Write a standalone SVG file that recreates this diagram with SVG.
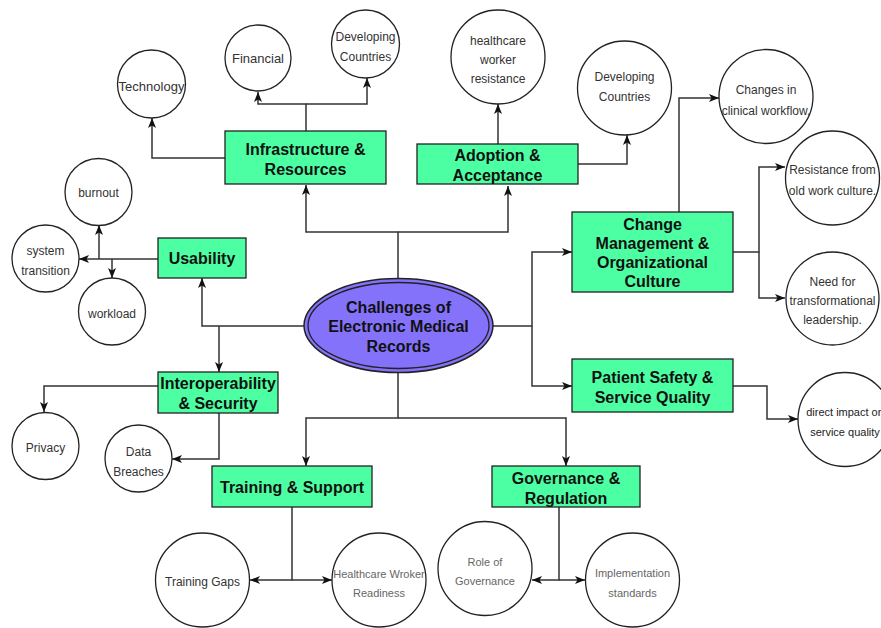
<svg xmlns="http://www.w3.org/2000/svg" width="881" height="628" viewBox="0 0 881 628">
<style>
.box{fill:#4dffa3;stroke:#222;stroke-width:1.3}
.c{fill:#fff;stroke:#222;stroke-width:1.3}
.bt{font-family:"Liberation Sans",Arial,sans-serif;font-size:16px;font-weight:bold;fill:#111;text-anchor:middle}
.ct{font-family:"Liberation Sans",Arial,sans-serif;font-size:12px;fill:#333;text-anchor:middle}
.gt{font-family:"Liberation Sans",Arial,sans-serif;font-size:11px;fill:#666;text-anchor:middle}
.ln{fill:none;stroke:#333;stroke-width:1.5}
</style>
<defs>
<marker id="ar" viewBox="0 0 10 8" refX="10" refY="4" markerWidth="10" markerHeight="8" orient="auto" markerUnits="userSpaceOnUse">
<path d="M0,0 L10,4 L0,8 L2.5,4 Z" fill="#111"/>
</marker>
</defs>
<rect width="881" height="628" fill="#fff"/>
<g id="connectors">
<path class="ln" d="M398,278 V232 H306 V185" marker-end="url(#ar)"/>
<path class="ln" d="M398,232 H508 V186" marker-end="url(#ar)"/>
<path class="ln" d="M225,158 H152 V118" marker-end="url(#ar)"/>
<path class="ln" d="M306,131 V104 H258 V92" marker-end="url(#ar)"/>
<path class="ln" d="M306,104 H367 V78" marker-end="url(#ar)"/>
<path class="ln" d="M498,144 V104" marker-end="url(#ar)"/>
<path class="ln" d="M578,164 H627 V135" marker-end="url(#ar)"/>
<path class="ln" d="M493,326 H532 V252 H572" marker-end="url(#ar)"/>
<path class="ln" d="M532,326 V386 H572" marker-end="url(#ar)"/>
<path class="ln" d="M679,212 V98 H719" marker-end="url(#ar)"/>
<path class="ln" d="M733,252 H759 V167 H785" marker-end="url(#ar)"/>
<path class="ln" d="M759,252 V298 H785" marker-end="url(#ar)"/>
<path class="ln" d="M733,386 H767 V419 H798" marker-end="url(#ar)"/>
<path class="ln" d="M398,373 V418 H306 V466" marker-end="url(#ar)"/>
<path class="ln" d="M398,418 H566 V466" marker-end="url(#ar)"/>
<path class="ln" d="M292,507 V580 H250" marker-end="url(#ar)"/>
<path class="ln" d="M292,580 H332" marker-end="url(#ar)"/>
<path class="ln" d="M559,507 V580 H532" marker-end="url(#ar)"/>
<path class="ln" d="M559,580 H585" marker-end="url(#ar)"/>
<path class="ln" d="M304,326 H202 V278" marker-end="url(#ar)"/>
<path class="ln" d="M219,326 V372" marker-end="url(#ar)"/>
<path class="ln" d="M158,259 H79" marker-end="url(#ar)"/>
<path class="ln" d="M99,259 V225" marker-end="url(#ar)"/>
<path class="ln" d="M112,259 V278" marker-end="url(#ar)"/>
<path class="ln" d="M158,386 H44 V412" marker-end="url(#ar)"/>
<path class="ln" d="M219,413 V459 H172" marker-end="url(#ar)"/>
</g>
<g id="center">
<ellipse cx="398.5" cy="325.5" rx="94.5" ry="47" fill="#8472fb" stroke="#222" stroke-width="1.5"/>
<ellipse cx="398.5" cy="325.5" rx="90.5" ry="43" fill="none" stroke="#222" stroke-width="1.3"/>
<text class="bt" x="398.5" y="313">Challenges of</text>
<text class="bt" x="398.5" y="332">Electronic Medical</text>
<text class="bt" x="398.5" y="352">Records</text>
</g>
<g id="infrastructure"><rect class="box" x="225" y="131" width="161" height="53"/><text class="bt" x="305.5" y="155">Infrastructure &amp;</text><text class="bt" x="305.5" y="175">Resources</text></g>
<g id="adoption"><rect class="box" x="417" y="144" width="161" height="40"/><text class="bt" x="497.5" y="161">Adoption &amp;</text><text class="bt" x="497.5" y="181">Acceptance</text></g>
<g id="usability"><rect class="box" x="158" y="238" width="88" height="40"/><text class="bt" x="202" y="264">Usability</text></g>
<g id="change"><rect class="box" x="572" y="212" width="161" height="80"/><text class="bt" x="652.5" y="230">Change</text><text class="bt" x="652.5" y="249">Management &amp;</text><text class="bt" x="652.5" y="268">Organizational</text><text class="bt" x="652.5" y="287">Culture</text></g>
<g id="patient"><rect class="box" x="572" y="359" width="161" height="53"/><text class="bt" x="652.5" y="383">Patient Safety &amp;</text><text class="bt" x="652.5" y="403">Service Quality</text></g>
<g id="interop"><rect class="box" x="158" y="372" width="120" height="41"/><text class="bt" x="218" y="389">Interoperability</text><text class="bt" x="218" y="409">&amp; Security</text></g>
<g id="training"><rect class="box" x="212" y="466" width="160" height="41"/><text class="bt" x="292" y="493">Training &amp; Support</text></g>
<g id="governance"><rect class="box" x="492" y="466" width="148" height="41"/><text class="bt" x="566" y="484">Governance &amp;</text><text class="bt" x="566" y="504">Regulation</text></g>
<g id="technology"><circle class="c" cx="151.5" cy="84" r="34"/><text class="ct" x="151.5" y="91" style="font-size:13px">Technology</text></g>
<g id="financial"><circle class="c" cx="258" cy="58" r="33"/><text class="ct" x="258" y="63" style="font-size:13px">Financial</text></g>
<g id="developing1"><circle class="c" cx="365.5" cy="44" r="34"/><text class="ct" x="365.5" y="41">Developing</text><text class="ct" x="365.5" y="61">Countries</text></g>
<g id="healthcare"><circle class="c" cx="498" cy="57" r="47"/><text class="ct" x="498" y="45">healthcare</text><text class="ct" x="498" y="64">worker</text><text class="ct" x="498" y="83">resistance</text></g>
<g id="developing2"><circle class="c" cx="624.5" cy="88" r="47"/><text class="ct" x="624.5" y="81">Developing</text><text class="ct" x="624.5" y="101">Countries</text></g>
<g id="workflow"><circle class="c" cx="766" cy="96.5" r="47"/><text class="ct" x="766" y="94">Changes in</text><text class="ct" x="766" y="115">clinical workflow.</text></g>
<g id="resistance"><circle class="c" cx="832.5" cy="178" r="47"/><text class="ct" x="832.5" y="174">Resistance from</text><text class="ct" x="832.5" y="195">old work culture.</text></g>
<g id="leadership"><circle class="c" cx="832.5" cy="298.5" r="46.5"/><text class="ct" x="832.5" y="286">Need for</text><text class="ct" x="832.5" y="305">transformational</text><text class="ct" x="832.5" y="324">leadership.</text></g>
<g id="direct"><circle class="c" cx="845" cy="419.5" r="47"/><text class="gt" x="845" y="416" style="fill:#222">direct impact on</text><text class="gt" x="845" y="436" style="fill:#222">service quality</text></g>
<g id="burnout"><circle class="c" cx="98.5" cy="192" r="33.5"/><text class="ct" x="98.5" y="197">burnout</text></g>
<g id="transition"><circle class="c" cx="45.5" cy="258.5" r="33.5"/><text class="ct" x="45.5" y="255">system</text><text class="ct" x="45.5" y="275">transition</text></g>
<g id="workload"><circle class="c" cx="112" cy="311.5" r="33.5"/><text class="ct" x="112" y="318">workload</text></g>
<g id="privacy"><circle class="c" cx="45.5" cy="446" r="33.5"/><text class="ct" x="45.5" y="452">Privacy</text></g>
<g id="breaches"><circle class="c" cx="138.5" cy="458.5" r="33.5"/><text class="ct" x="138.5" y="456">Data</text><text class="ct" x="138.5" y="476">Breaches</text></g>
<g id="gaps"><circle class="c" cx="202.5" cy="580" r="47"/><text class="ct" x="202.5" y="586">Training Gaps</text></g>
<g id="readiness"><circle class="c" cx="379" cy="580" r="47"/><text class="gt" x="379" y="578">Healthcare Wroker</text><text class="gt" x="379" y="597">Readiness</text></g>
<g id="role"><circle class="c" cx="485" cy="568.5" r="47"/><text class="gt" x="485" y="566">Role of</text><text class="gt" x="485" y="585">Governance</text></g>
<g id="standards"><circle class="c" cx="632.5" cy="580" r="47"/><text class="gt" x="632.5" y="577">Implementation</text><text class="gt" x="632.5" y="597">standards</text></g>
</svg>
